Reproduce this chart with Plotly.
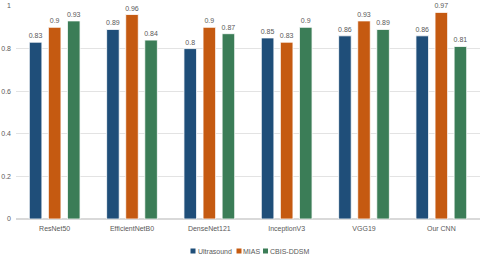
import plotly.graph_objects as go

categories = ["ResNet50", "EfficientNetB0", "DenseNet121", "InceptionV3", "VGG19", "Our CNN"]
ultrasound = [0.83, 0.89, 0.80, 0.85, 0.86, 0.86]
mias = [0.90, 0.96, 0.90, 0.83, 0.93, 0.97]
cbis = [0.93, 0.84, 0.87, 0.90, 0.89, 0.81]
y_ticks = [0, 0.2, 0.4, 0.6, 0.8, 1]

series_names = ["Ultrasound", "MIAS", "CBIS-DDSM"]
series_vals = [ultrasound, mias, cbis]
series_colors = ["#1F4E79", "#C55A11", "#3B7D57"]

TXT = "#595959"
FONT = "Liberation Sans"

fig = go.Figure()
for name, vals, col in zip(series_names, series_vals, series_colors):
    fig.add_trace(go.Bar(
        x=categories, y=vals, name=name, showlegend=False,
        marker=dict(color=col, line=dict(color="white", width=0.8)),
        text=[f"{v:g}" for v in vals], textposition="outside", constraintext="none",
        textfont=dict(size=7, color=TXT, family=FONT),
        cliponaxis=False,
    ))

# custom legend drawn below the plot (paper coordinates)
W, H, L, T = 464.0, 213.0, 16.0, 6.0
def px_x(px):
    return (px - L) / W
def px_y(py):
    return (T + H - py) / H

legend_pos = [(190.5, 196.5), (236.5, 242.0), (263.0, 268.5)]
for (sq_x, tx_x), name, col in zip(legend_pos, series_names, series_colors):
    fig.add_shape(type="rect", xref="paper", yref="paper",
                  x0=px_x(sq_x), x1=px_x(sq_x + 5), y0=px_y(248.5), y1=px_y(253.5),
                  fillcolor=col, line=dict(width=0))
    fig.add_annotation(x=px_x(tx_x), y=px_y(251), xref="paper", yref="paper",
                       xanchor="left", yanchor="middle", text=name, showarrow=False,
                       font=dict(size=7, color=TXT, family=FONT), borderpad=0)

fig.update_layout(
    width=480, height=255,
    margin=dict(l=16, r=0, t=6, b=36),
    paper_bgcolor="white", plot_bgcolor="white",
    barmode="group", bargap=0.26, bargroupgap=0.34,
    font=dict(family=FONT, size=7, color=TXT),
    showlegend=False,
    xaxis=dict(showgrid=False, showline=False, ticks="", tickfont=dict(size=7, color=TXT),
               ticklabelstandoff=4),
    yaxis=dict(range=[0, 1], tickvals=y_ticks, ticktext=["0", "0.2", "0.4", "0.6", "0.8", "1"],
               showgrid=True, gridcolor="#E3E3E3", gridwidth=1, zeroline=True, zerolinecolor="#D9D9D9",
               tickfont=dict(size=7, color=TXT), ticklabelstandoff=4),
)

fig.write_html("out.html", config={"displayModeBar": False},
               post_script="document.body.style.margin='0px';")
